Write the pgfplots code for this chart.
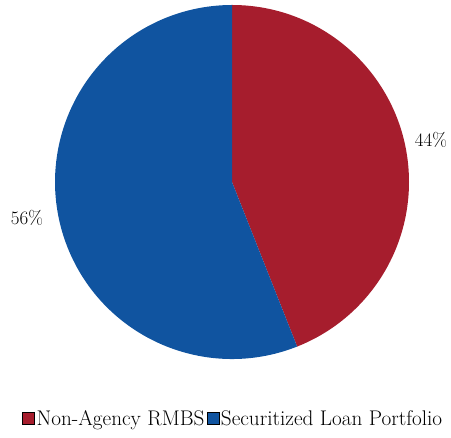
\documentclass[border=0pt]{standalone}
\usepackage{pgfplots}
\pgfplotsset{compat=1.18}
\definecolor{rmbs}{RGB}{166,29,45}
\definecolor{slp}{RGB}{16,84,160}
\begin{document}
\begin{tikzpicture}
% data (percent)
\def\va{44}
\def\vb{56}
\pgfmathsetmacro{\angA}{90-3.6*\va}
\begin{axis}[
  width=451pt, height=438pt, scale only axis,
  xmin=0, xmax=451, ymin=0, ymax=438,
  axis lines=none, clip=false,
  legend columns=2,
  legend style={draw=none, fill=none, at={(axis cs:22,19)}, anchor=west,
    font=\fontsize{21.2}{24}\selectfont, inner sep=0pt,
    /tikz/every even column/.append style={column sep=0pt}},
  legend cell align=left,
  legend image code/.code={\fill[#1] (0pt,-5.5pt) rectangle (12pt,6.5pt);},
]
\path (rel axis cs:0,0) rectangle (rel axis cs:1,1);
\addlegendimage{fill=rmbs}
\addlegendentry{Non-Agency RMBS}
\addlegendimage{fill=slp}
\addlegendentry{Securitized Loan Portfolio}
\fill[rmbs] (axis cs:232,256) -- ++(90:177pt) arc[start angle=90, end angle=\angA, radius=177pt] -- cycle;
\fill[slp] (axis cs:232,256) -- ++(\angA:177pt) arc[start angle=\angA, end angle=-270, radius=177pt] -- cycle;
\node[font=\fontsize{19}{21}\selectfont] at (axis cs:431,298) {\va\%};
\node[font=\fontsize{19}{21}\selectfont] at (axis cs:27,220) {\vb\%};
\end{axis}
\end{tikzpicture}
\end{document}
